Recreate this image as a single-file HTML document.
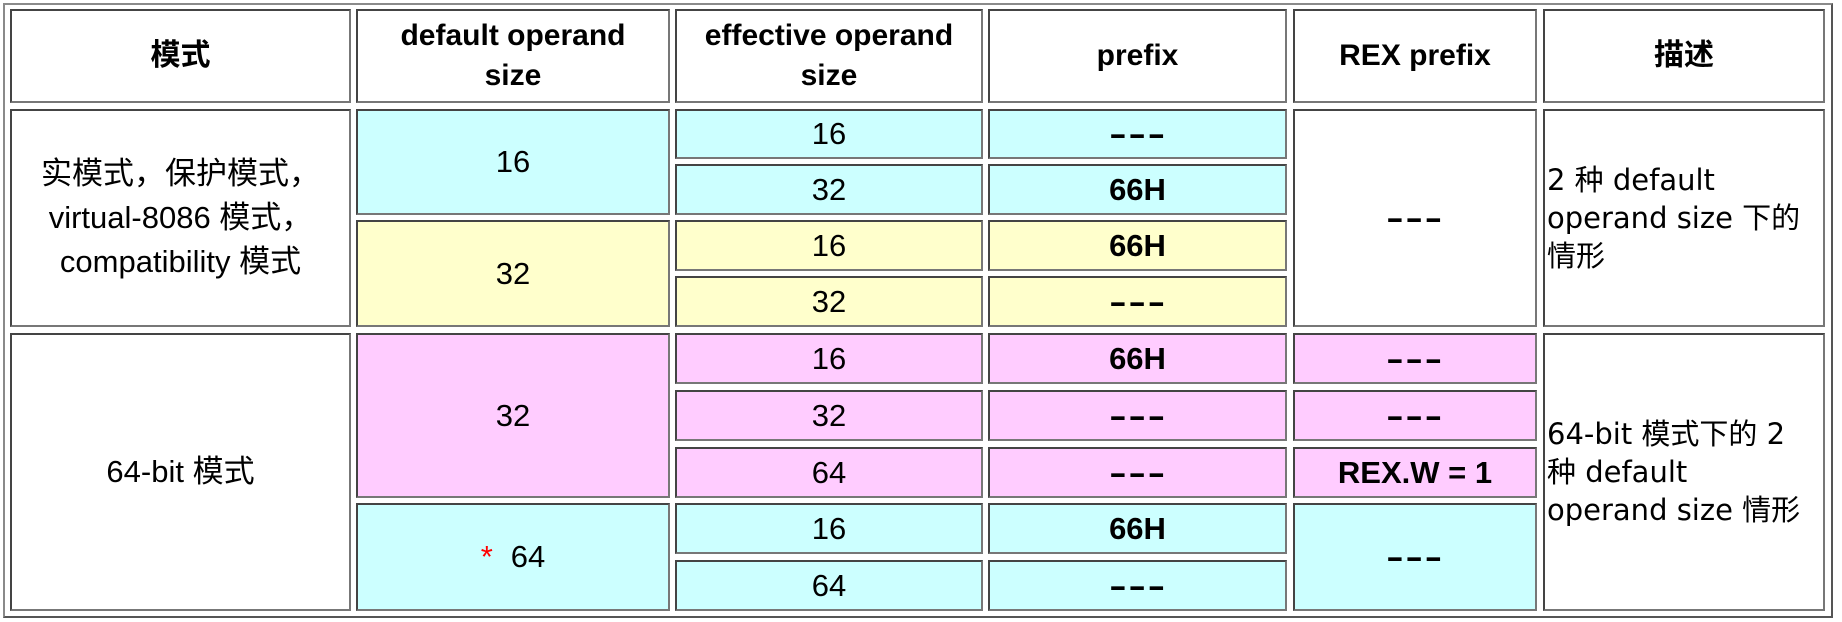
<!DOCTYPE html>
<html><head><meta charset="utf-8"><style>
body{margin:0;width:1842px;height:622px;background:#fff;position:relative;overflow:hidden;font-family:"Liberation Sans","Noto Sans CJK SC",sans-serif;color:#000}
.t{position:absolute;left:3px;top:3px;width:1826px;height:611px;border:2px solid #8a8a8a;border-right-color:#555;border-bottom-color:#555}
.c{position:absolute;box-sizing:border-box;border:2px solid #777;border-top-color:#444;border-left-color:#444;display:flex;align-items:center;justify-content:center;text-align:center;font-size:31px;line-height:44px}
.h{font-weight:bold;font-size:30px;line-height:40px}
.b{font-weight:bold}
.dash{display:inline-block;transform:scaleX(1.7);letter-spacing:1px}
.cy{background:#ccffff}.ye{background:#ffffcc}.pk{background:#ffccff}
.d{justify-content:flex-start;text-align:left;font-family:"DejaVu Sans","Noto Sans CJK SC",sans-serif;font-size:29px;line-height:38px;padding-left:2px}
</style></head><body>
<div class="t"></div>
<div class="c h" style="left:10px;top:9px;width:341px;height:94px">模式</div>
<div class="c h" style="left:356px;top:9px;width:314px;height:94px">default operand<br>size</div>
<div class="c h" style="left:675px;top:9px;width:308px;height:94px">effective operand<br>size</div>
<div class="c h" style="left:988px;top:9px;width:299px;height:94px">prefix</div>
<div class="c h" style="left:1293px;top:9px;width:244px;height:94px">REX prefix</div>
<div class="c h" style="left:1543px;top:9px;width:282px;height:94px">描述</div>
<div class="c" style="left:10px;top:109px;width:341px;height:218px">实模式，保护模式，<br>virtual-8086 模式，<br>compatibility 模式</div>
<div class="c cy" style="left:356px;top:109px;width:314px;height:106px">16</div>
<div class="c ye" style="left:356px;top:220px;width:314px;height:107px">32</div>
<div class="c cy" style="left:675px;top:109px;width:308px;height:50px">16</div>
<div class="c cy" style="left:675px;top:164px;width:308px;height:51px">32</div>
<div class="c ye" style="left:675px;top:220px;width:308px;height:51px">16</div>
<div class="c ye" style="left:675px;top:276px;width:308px;height:51px">32</div>
<div class="c cy b" style="left:988px;top:109px;width:299px;height:50px"><span class="dash">---</span></div>
<div class="c cy b" style="left:988px;top:164px;width:299px;height:51px">66H</div>
<div class="c ye b" style="left:988px;top:220px;width:299px;height:51px">66H</div>
<div class="c ye b" style="left:988px;top:276px;width:299px;height:51px"><span class="dash">---</span></div>
<div class="c b" style="left:1293px;top:109px;width:244px;height:218px"><span class="dash">---</span></div>
<div class="c d" style="left:1543px;top:109px;width:282px;height:218px">2 种 default<br>operand size 下的<br>情形</div>
<div class="c" style="left:10px;top:333px;width:341px;height:278px">64-bit 模式</div>
<div class="c pk" style="left:356px;top:333px;width:314px;height:165px">32</div>
<div class="c cy" style="left:356px;top:503px;width:314px;height:108px"><span style="color:#f00;margin-right:18px">*</span>64</div>
<div class="c pk" style="left:675px;top:333px;width:308px;height:51px">16</div>
<div class="c pk" style="left:675px;top:390px;width:308px;height:51px">32</div>
<div class="c pk" style="left:675px;top:447px;width:308px;height:51px">64</div>
<div class="c cy" style="left:675px;top:503px;width:308px;height:51px">16</div>
<div class="c cy" style="left:675px;top:560px;width:308px;height:51px">64</div>
<div class="c pk b" style="left:988px;top:333px;width:299px;height:51px">66H</div>
<div class="c pk b" style="left:988px;top:390px;width:299px;height:51px"><span class="dash">---</span></div>
<div class="c pk b" style="left:988px;top:447px;width:299px;height:51px"><span class="dash">---</span></div>
<div class="c cy b" style="left:988px;top:503px;width:299px;height:51px">66H</div>
<div class="c cy b" style="left:988px;top:560px;width:299px;height:51px"><span class="dash">---</span></div>
<div class="c pk b" style="left:1293px;top:333px;width:244px;height:51px"><span class="dash">---</span></div>
<div class="c pk b" style="left:1293px;top:390px;width:244px;height:51px"><span class="dash">---</span></div>
<div class="c pk b" style="left:1293px;top:447px;width:244px;height:51px">REX.W = 1</div>
<div class="c cy b" style="left:1293px;top:503px;width:244px;height:108px"><span class="dash">---</span></div>
<div class="c d" style="left:1543px;top:333px;width:282px;height:278px">64-bit 模式下的 2<br>种 default<br>operand size 情形</div>
</body></html>
